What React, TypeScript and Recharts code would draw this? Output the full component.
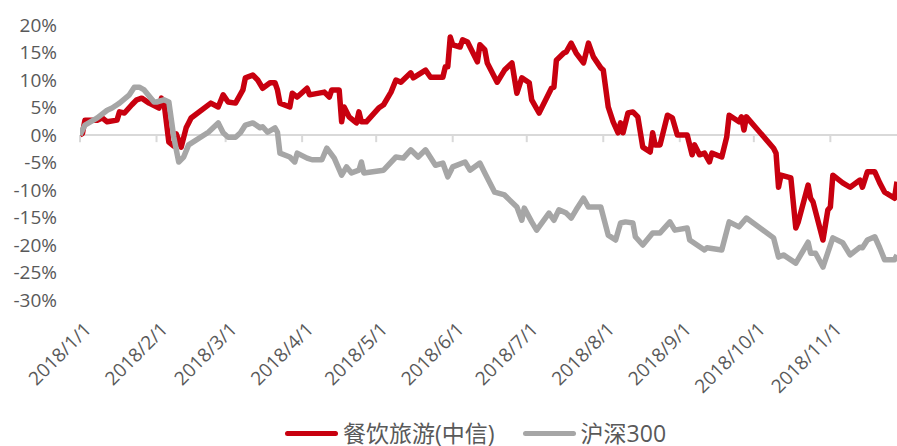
import React from 'react';
import { LineChart, Line, XAxis, YAxis, ReferenceLine, Legend } from 'recharts';

// 餐饮旅游(中信) cumulative return, %
const cateringDates = [
  '1/1', '1/2', '1/3', '1/8', '1/10', '1/12', '1/16', '1/17', '1/19', '1/22', '1/24', '1/26', '1/29',
  '2/2', '2/3', '2/4', '2/6', '2/8', '2/9', '2/11', '2/13', '2/14', '2/15', '2/23', '2/26', '2/28',
  '3/2', '3/5', '3/8', '3/9', '3/12', '3/14', '3/16', '3/19', '3/21', '3/22', '3/23', '3/27', '3/28', '3/30',
  '4/3', '4/4', '4/10', '4/12', '4/13', '4/16', '4/17', '4/18', '4/20', '4/23', '4/24', '4/25', '4/27',
  '5/2', '5/4', '5/7', '5/9', '5/11', '5/15', '5/16', '5/21', '5/23', '5/28', '5/29', '5/30', '5/31',
  '6/1', '6/4', '6/5', '6/7', '6/11', '6/12', '6/14', '6/15', '6/19', '6/22', '6/25', '6/27', '6/29',
  '7/2', '7/3', '7/6', '7/11', '7/12', '7/13', '7/16', '7/17', '7/19', '7/21', '7/24', '7/26', '7/28', '7/31',
  '8/1', '8/3', '8/5', '8/7', '8/8', '8/9', '8/11', '8/13', '8/15', '8/17', '8/20', '8/21', '8/22', '8/24', '8/27', '8/29', '8/31',
  '9/4', '9/6', '9/7', '9/9', '9/11', '9/13', '9/14', '9/18', '9/20', '9/21', '9/25', '9/26', '9/27', '9/28',
  '10/9', '10/10', '10/11', '10/12', '10/16', '10/18', '10/19', '10/23', '10/24', '10/25', '10/29', '10/31',
  '11/1', '11/2', '11/6', '11/9', '11/13', '11/14', '11/16', '11/19', '11/21', '11/23', '11/27', '11/28',
];
const cateringValues = [
  0, 0.3, 2.7, 2.7, 3.1, 2.4, 2.7, 4.2, 4.0, 5.5, 6.4, 6.7, 5.8,
  4.9, 6.7, 6.0, -1.3, -2.0, 0.2, -2.2, 1.3, 2.2, 3.1, 5.8, 5.1, 7.3,
  6.0, 5.8, 8.2, 10.4, 10.9, 10.0, 8.5, 9.5, 9.5, 8.2, 5.8, 5.1, 7.6, 6.9,
  8.5, 7.3, 7.8, 6.9, 8.2, 8.2, 2.4, 5.1, 3.3, 2.2, 4.2, 2.4, 2.4,
  4.9, 5.5, 7.8, 10.0, 9.6, 11.3, 10.4, 11.8, 10.5, 10.5, 12.4, 12.4, 17.8,
  16.4, 16.0, 17.3, 16.9, 13.3, 16.4, 15.5, 13.1, 9.6, 11.8, 13.1, 7.6, 10.4,
  9.5, 6.4, 4.0, 8.5, 8.7, 13.6, 14.9, 15.1, 16.7, 14.9, 13.1, 16.7, 14.2, 12.2,
  11.8, 5.1, 2.4, 0.4, 2.2, 0.4, 4.0, 4.2, 3.3, -2.2, -3.1, 0.4, -1.8, -1.8, 3.6, 3.1, 0,
  0, -3.6, -1.8, -3.6, -3.3, -4.9, -3.3, -4.0, -0.4, 3.6, 2.4, 3.3, 0.9, 3.3,
  -2.4, -3.3, -9.5, -7.3, -7.8, -16.9, -15.8, -9.1, -11.5, -12.2, -19.1, -13.6,
  -13.1, -7.3, -8.7, -9.5, -8.2, -9.5, -6.7, -6.7, -8.7, -10.4, -11.5, -8.5,
];

// 沪深300 cumulative return, %
const hs300Dates = [
  '1/1', '1/3', '1/8', '1/12', '1/14', '1/16', '1/17', '1/21', '1/23', '1/25', '1/27', '1/31',
  '2/1', '2/4', '2/6', '2/8', '2/10', '2/12', '2/14', '2/22', '2/26', '2/28',
  '3/2', '3/5', '3/7', '3/9', '3/12', '3/15', '3/16', '3/18', '3/21', '3/22', '3/23', '3/27', '3/29', '3/30',
  '4/3', '4/5', '4/9', '4/11', '4/14', '4/17', '4/19', '4/21', '4/24', '4/25', '4/26',
  '5/4', '5/9', '5/12', '5/15', '5/18', '5/21', '5/25', '5/28', '5/30',
  '6/1', '6/6', '6/8', '6/12', '6/14', '6/18', '6/22', '6/24', '6/27', '6/29', '6/30',
  '7/3', '7/5', '7/10', '7/12', '7/14', '7/17', '7/19', '7/21', '7/24', '7/26', '7/31',
  '8/3', '8/6', '8/8', '8/10', '8/13', '8/14', '8/17', '8/21', '8/24', '8/28', '8/30',
  '9/4', '9/5', '9/11', '9/12', '9/18', '9/21', '9/25', '9/28',
  '10/9', '10/11', '10/13', '10/18', '10/23', '10/24', '10/26', '10/29',
  '11/2', '11/6', '11/9', '11/13', '11/14', '11/16', '11/19', '11/21', '11/23', '11/27', '11/28',
];
const hs300Values = [
  0, 1.8, 3.1, 4.5, 4.9, 5.5, 5.8, 7.3, 8.7, 8.7, 8.2, 6.0,
  6.0, 6.4, 6.0, -0.4, -4.9, -4.0, -1.8, 0.5, 2.2, 0.4,
  -0.4, -0.4, 0.4, 1.8, 2.2, 1.3, 1.5, 0.5, 1.3, 0.5, -3.3, -4.0, -4.9, -3.3,
  -4.2, -4.5, -4.5, -2.4, -4.2, -7.3, -5.8, -6.9, -6.4, -4.9, -6.9,
  -6.4, -4.0, -4.2, -2.7, -4.0, -2.7, -5.5, -5.1, -7.6,
  -5.8, -4.9, -6.4, -5.1, -6.9, -10.4, -10.9, -11.8, -13.1, -15.5, -13.3,
  -15.8, -17.3, -14.2, -15.5, -13.6, -14.2, -15.1, -13.6, -11.5, -13.1, -13.1,
  -18.2, -19.1, -16.0, -15.8, -16.0, -18.5, -20.0, -17.8, -17.8, -15.8, -17.3,
  -16.9, -19.1, -20.9, -20.5, -20.9, -15.8, -16.7, -15.1,
  -18.7, -22.2, -21.8, -23.3, -19.5, -21.5, -21.5, -24.0,
  -18.7, -19.6, -21.8, -20.4, -20.5, -19.1, -18.5, -20.5, -22.7, -22.7, -21.8,
];

const monthTicks = ['1/1', '2/1', '3/1', '4/1', '5/1', '6/1', '7/1', '8/1', '9/1', '10/1', '11/1'];
const yTicks = [-30, -25, -20, -15, -10, -5, 0, 5, 10, 15, 20];

const RED = '#C8000F';
const GRAY = '#A6A6A6';
const TEXT = '#595959';

// day offset from 2018/1/1
const toDay = (md: string) => {
  const [m, d] = md.split('/').map(Number);
  return Math.round((Date.UTC(2018, m - 1, d) - Date.UTC(2018, 0, 1)) / 86400000);
};

const dayToLabel = (day: number) => {
  const dt = new Date(Date.UTC(2018, 0, 1) + day * 86400000);
  return `2018/${dt.getUTCMonth() + 1}/${dt.getUTCDate()}`;
};

const cateringData = cateringDates.map((d, i) => ({ day: toDay(d), value: cateringValues[i] }));
const hs300Data = hs300Dates.map((d, i) => ({ day: toDay(d), value: hs300Values[i] }));
const tickDays = monthTicks.map(toDay);

const legendItems = [
  { name: '餐饮旅游(中信)', color: RED },
  { name: '沪深300', color: GRAY },
];

function ChartLegend() {
  return (
    <div style={{ display: 'flex', alignItems: 'center', height: 26 }}>
      {legendItems.map((item, i) => (
        <div key={item.name} style={{ display: 'flex', alignItems: 'center', marginLeft: i === 0 ? 0 : 28 }}>
          <span
            style={{
              display: 'inline-block',
              width: 53,
              height: 5,
              borderRadius: 3,
              background: item.color,
              marginRight: 5,
            }}
          />
          <span style={{ fontSize: 23, color: TEXT, lineHeight: '26px', whiteSpace: 'nowrap' }}>{item.name}</span>
        </div>
      ))}
    </div>
  );
}

export default function App() {
  return (
    <div
      style={{
        position: 'absolute',
        left: 8,
        top: 8,
        width: 889,
        height: 438,
        overflow: 'hidden',
        fontFamily: "'Open Sans', 'Noto Sans CJK SC', sans-serif",
      }}
    >
      <LineChart width={889} height={438} margin={{ top: 17, right: 0, bottom: 46, left: 0 }}>
        <XAxis
          dataKey="day"
          type="number"
          domain={[0, 331]}
          ticks={tickDays}
          tickFormatter={dayToLabel}
          allowDataOverflow
          axisLine={false}
          tickLine={false}
          height={100}
          angle={-45}
          textAnchor="end"
          tickMargin={15}
          interval={0}
          tick={{ fontSize: 19, fill: TEXT, dx: 3 }}
        />
        <YAxis
          type="number"
          domain={[-30, 20]}
          ticks={yTicks}
          tickFormatter={(v) => `${v}%`}
          axisLine={false}
          tickLine={false}
          width={72}
          tickMargin={17}
          interval={0}
          tick={{ fontSize: 19, fill: TEXT }}
        />
        <ReferenceLine y={0} stroke="#D9D9D9" strokeWidth={2} />
        {tickDays.map((d) => (
          <ReferenceLine
            key={d}
            segment={[{ x: d, y: 0 }, { x: d, y: -1.3 }]}
            stroke="#D9D9D9"
            strokeWidth={2}
          />
        ))}
        <Line
          data={cateringData}
          dataKey="value"
          name="餐饮旅游(中信)"
          stroke={RED}
          strokeWidth={5.5}
          strokeLinejoin="round"
          dot={false}
          isAnimationActive={false}
        />
        <Line
          data={hs300Data}
          dataKey="value"
          name="沪深300"
          stroke={GRAY}
          strokeWidth={5.5}
          strokeLinejoin="round"
          dot={false}
          isAnimationActive={false}
        />
        <Legend
          layout="horizontal"
          verticalAlign="middle"
          align="center"
          content={() => <ChartLegend />}
          wrapperStyle={{ top: 412, left: 277, width: 420, height: 26 }}
        />
      </LineChart>
    </div>
  );
}
